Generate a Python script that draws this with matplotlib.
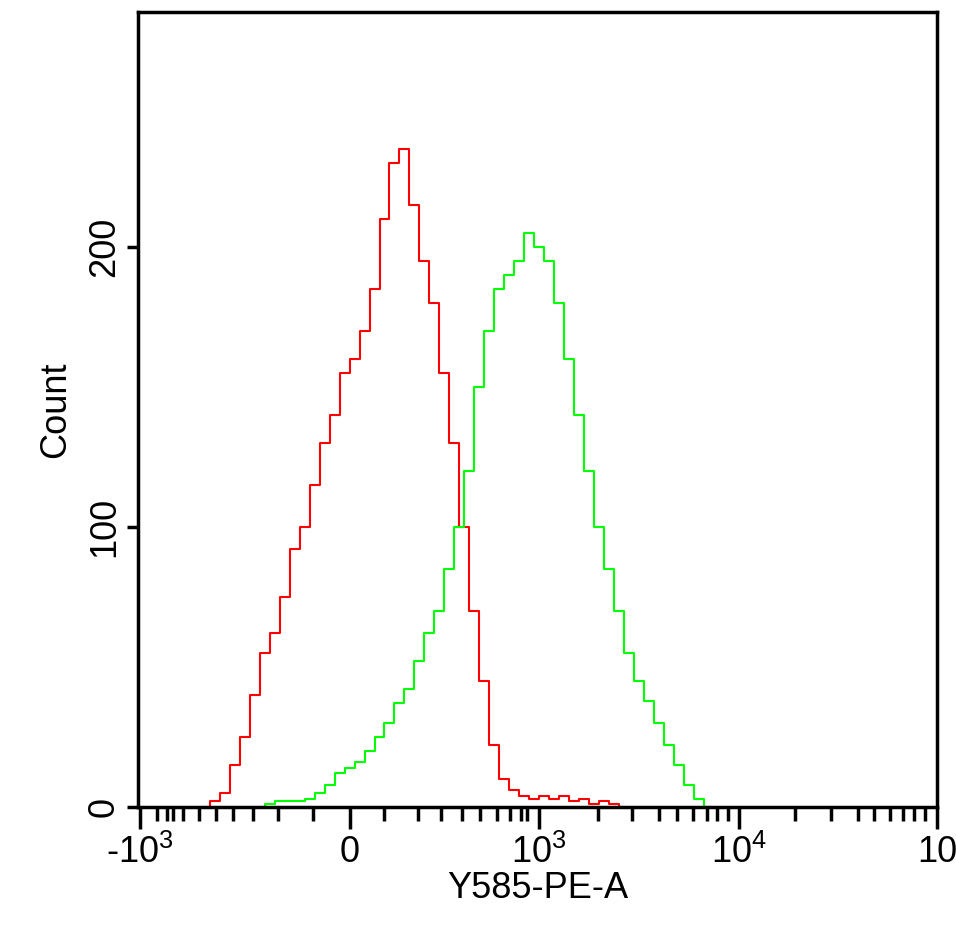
import matplotlib
matplotlib.use("Agg")
import matplotlib.pyplot as plt

# x positions are in display channels (0 = -10^3 edge, 799 = 10^5 edge)
red_x = [67, 77, 87, 97, 107, 117, 127, 137, 147, 157, 167, 177, 187, 197, 207, 217, 227, 237, 247, 257,
         267, 277, 287, 297, 307, 317, 327, 337, 347, 357, 367, 377, 387, 397, 407, 417, 427, 437, 447,
         457, 467, 477, 487]
red_y = [0, 2, 5, 15, 25, 40, 55, 62, 75, 92, 100, 115, 130, 140, 155, 160, 170, 185, 210, 230,
         235, 215, 195, 180, 155, 130, 100, 70, 45, 22, 10, 6, 4, 3, 4, 3, 4, 2, 3, 1, 2, 1, 0]
green_x = [122, 132, 142, 152, 162, 172, 182, 192, 202, 212, 222, 232, 242, 252, 262, 272, 282, 292, 302,
           312, 322, 332, 342, 352, 362, 372, 382, 392, 402, 412, 422, 432, 442, 452, 462, 472, 482, 492,
           502, 512, 522, 532, 542, 552, 562, 572, 577]
green_y = [0, 1, 2, 2, 2, 3, 5, 8, 12, 14, 16, 20, 25, 30, 37, 42, 52, 62, 70, 85, 100, 120, 150, 170,
           185, 190, 195, 205, 200, 195, 180, 160, 140, 120, 100, 85, 70, 55, 45, 38, 30, 22, 15, 8, 3, 0, 0]

major_ticks = [2, 212, 402, 602, 801]
major_labels = ["-10$^3$", "0", "10$^3$", "10$^4$", "10"]
minor_ticks = [19, 29, 35, 45, 61, 78, 95, 115, 140, 175,
               247, 281, 304, 325, 343, 360, 373, 384, 390,
               461, 495, 522, 540, 556, 570, 580, 591,
               658, 695, 722, 738, 754, 767, 778, 789]
y_ticks = [0, 100, 200]

plt.rcParams['font.family'] = ['Liberation Sans', 'DejaVu Sans']
plt.rcParams['mathtext.fontset'] = 'custom'
plt.rcParams['mathtext.rm'] = 'Liberation Sans'
fig = plt.figure(figsize=(9.56, 9.38), dpi=100)
ax = fig.add_axes([0.1444, 0.1397, 0.836, 0.8475])

ax.step(red_x, red_y, where='mid', color='#ff0000', lw=1.5)
ax.step(green_x, green_y, where='mid', color='#00ff00', lw=1.5)

ax.set_xlim(0, 799)
ax.set_ylim(0, 284)
ax.set_xticks(major_ticks)
ax.set_xticklabels(major_labels, fontsize=26)
ax.set_xticks(minor_ticks, minor=True)
ax.set_yticks(y_ticks)
ax.set_yticklabels([str(v) for v in y_ticks], fontsize=26, rotation=90, va='center')
ax.tick_params(axis='x', which='major', length=16, width=2.5, pad=4)
ax.tick_params(axis='x', which='minor', length=10, width=2.5)
ax.tick_params(axis='y', length=8, width=2.5)
for s in ax.spines.values():
    s.set_linewidth(2.5)
ax.set_xlabel("Y585-PE-A", fontsize=26, labelpad=0)
ax.set_ylabel("Count", fontsize=26, labelpad=10)

fig.savefig("out.png", dpi=100)
